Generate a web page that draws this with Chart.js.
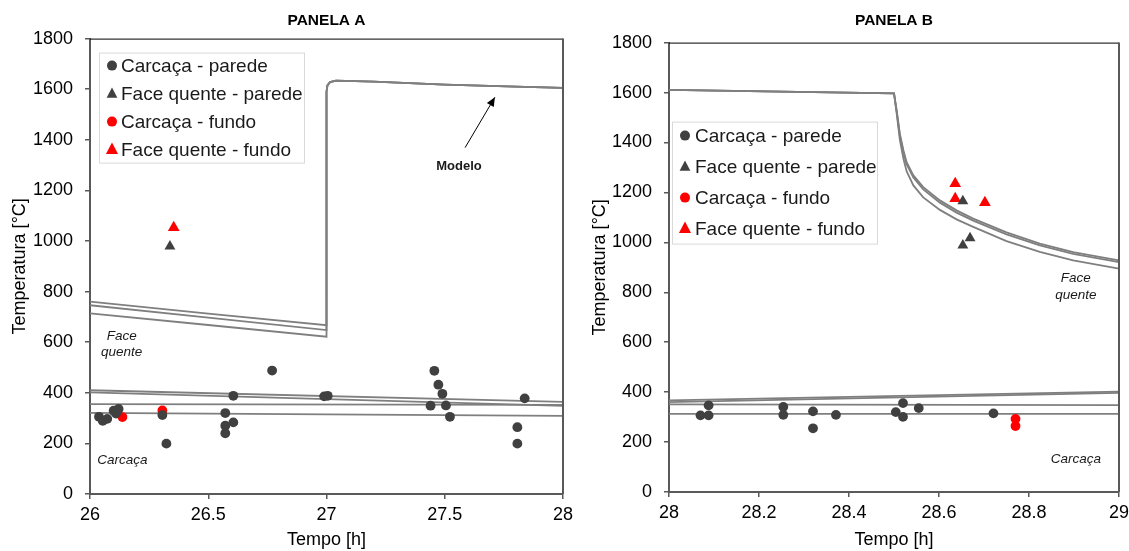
<!DOCTYPE html>
<html><head><meta charset="utf-8">
<script src="https://cdn.jsdelivr.net/npm/chart.js@4.4.0/dist/chart.umd.min.js"></script>
<style>
body{margin:0;background:#fff;width:1129px;height:551px;overflow:hidden;position:relative}
#wa{position:absolute;left:0;top:0;width:580px;height:551px}
#wb{position:absolute;left:580px;top:0;width:549px;height:551px}
</style></head><body>
<div id="wa"><canvas id="ca" width="580" height="551"></canvas></div>
<div id="wb"><canvas id="cb" width="549" height="551"></canvas></div>
<script>
// ---- data ----
var legendLabels = ["Carcaça - parede", "Face quente - parede", "Carcaça - fundo", "Face quente - fundo"];
var yTicks = [0, 1800, 200];
var xTicksA = [26, 28, 0.5];
var xTicksB = [28, 29, 0.2];

// Panel A measurements
var cpA_t = [26.038, 26.054, 26.073, 26.10, 26.11, 26.121, 26.306, 26.323, 26.572, 26.572, 26.572, 26.606, 26.606, 26.77, 26.99, 27.005, 27.456, 27.473, 27.49, 27.44, 27.505, 27.522, 27.807, 27.807, 27.838];
var cpA_T = [305, 289, 297, 329, 318, 336, 312, 199, 320, 270, 240, 283, 388, 488, 386, 388, 487, 432, 396, 349, 350, 305, 264, 199, 378];
var fqpA_t = [26.338];
var fqpA_T = [979];
var cfA_t = [26.137, 26.306];
var cfA_T = [304, 330];
var fqfA_t = [26.354];
var fqfA_T = [1053];

// Panel A model curves
var fqModelA_t = [26, 26.5, 27, 27, 27.004, 27.015, 27.04, 27.2, 27.5, 27.8, 28];
var fqModelA1 = [760, 713, 667, 1590, 1615, 1628, 1634, 1630, 1618, 1610, 1605];
var fqModelA2 = [746, 697, 648, 1590, 1615, 1628, 1634, 1630, 1618, 1610, 1605];
var fqModelA3 = [714, 668, 622, 1590, 1615, 1628, 1634, 1630, 1618, 1610, 1605];
var cModelA_t = [26, 28];
var cModelA1 = [410, 364];
var cModelA2 = [402, 348];
var cModelA3 = [355, 352];
var cModelA4 = [321, 309];

// Panel B measurements
var cpB_t = [28.07, 28.088, 28.088, 28.254, 28.254, 28.32, 28.32, 28.371, 28.504, 28.52, 28.52, 28.555, 28.721];
var cpB_T = [307, 307, 347, 341, 309, 323, 255, 309, 320, 356, 301, 336, 315];
var fqpB_t = [28.653, 28.669, 28.653];
var fqpB_T = [1165, 1017, 988];
var cfB_t = [28.77, 28.77];
var cfB_T = [293, 264];
var fqfB_t = [28.636, 28.636, 28.702];
var fqfB_T = [1235, 1175, 1159];

// Panel B model curves
var fqModelB_t = [28, 28.25, 28.5, 28.506, 28.513, 28.521, 28.528, 28.543, 28.565, 28.602, 28.639, 28.676, 28.75, 28.824, 28.898, 29];
var fqModelB1 = [1611, 1604, 1597, 1528, 1435, 1368, 1321, 1268, 1221, 1168, 1128, 1095, 1040, 995, 961, 928];
var fqModelB2 = [1611, 1604, 1597, 1524, 1428, 1360, 1313, 1260, 1212, 1159, 1119, 1087, 1032, 988, 954, 921];
var fqModelB3 = [1611, 1604, 1597, 1515, 1410, 1335, 1285, 1228, 1180, 1130, 1092, 1062, 1005, 962, 928, 895];
var cModelB_t = [28, 29];
var cModelB1 = [367, 402];
var cModelB2 = [360, 397];
var cModelB3 = [351, 348];
var cModelB4 = [313, 313];

Chart.defaults.font.family = "'Liberation Sans', Arial, sans-serif";
Chart.defaults.color = '#000';

function pts(t, v) {
    var out = [];
    for (var i = 0; i < t.length; i++) out.push({x: t[i], y: v[i]});
    return out;
}

var DARK = '#404040', RED = '#ff0000', MODEL = '#7f7f7f';

function marker_sets(cp_t, cp_T, fqp_t, fqp_T, cf_t, cf_T, fqf_t, fqf_T) {
    var mk = function (label, t, v, color, style, r) {
        return {label: label, data: pts(t, v), backgroundColor: color, borderColor: color, borderWidth: 0,
                pointStyle: style, pointRadius: r, showLine: false, order: 0};
    };
    return [
        mk(legendLabels[0], cp_t, cp_T, DARK, 'circle', 4.9),
        mk(legendLabels[1], fqp_t, fqp_T, DARK, 'triangle', 6.3),
        mk(legendLabels[2], cf_t, cf_T, RED, 'circle', 4.9),
        mk(legendLabels[3], fqf_t, fqf_T, RED, 'triangle', 6.8)
    ];
}

function model_line(t, v) {
    return {data: pts(t, v), showLine: true, pointRadius: 0, borderColor: MODEL, borderWidth: 1.8,
            fill: false, tension: 0, order: 10};
}

// legend box + annotations + frame
var decor = {
    id: 'decor',
    afterDatasetsDraw: function (chart, args, o) {
        var ctx = chart.ctx, ca = chart.chartArea, xs = chart.scales.x, ys = chart.scales.y;
        ctx.save();
        // frame: top + right
        ctx.strokeStyle = '#000'; ctx.lineWidth = 1;
        ctx.beginPath(); ctx.moveTo(ca.left, ca.top + 0.5); ctx.lineTo(ca.right, ca.top + 0.5); ctx.stroke();
        ctx.strokeStyle = '#595959'; ctx.lineWidth = 2;
        ctx.beginPath(); ctx.moveTo(ca.right, ca.top); ctx.lineTo(ca.right, ca.bottom); ctx.stroke();

        // legend
        var L = o.legend;
        var bx = ca.left + L.dx, by = ca.top + L.dy;
        ctx.fillStyle = '#fff'; ctx.fillRect(bx, by, L.w, L.h);
        ctx.strokeStyle = '#d9d9d9'; ctx.lineWidth = 1;
        ctx.strokeRect(bx + 0.5, by + 0.5, L.w, L.h);
        ctx.font = "19px 'Liberation Sans', Arial, sans-serif";
        ctx.textBaseline = 'middle';
        for (var i = 0; i < 4; i++) {
            var ds = chart.data.datasets[i];
            var cy = by + L.first + i * L.step, cx = bx + 13;
            ctx.fillStyle = ds.backgroundColor;
            ctx.beginPath();
            if (ds.pointStyle === 'circle') {
                ctx.arc(cx, cy, 5, 0, Math.PI * 2);
            } else {
                var r = i === 3 ? 7 : 6.2;
                ctx.moveTo(cx, cy - r);
                ctx.lineTo(cx + r * 0.866, cy + r * 0.5 + 1);
                ctx.lineTo(cx - r * 0.866, cy + r * 0.5 + 1);
                ctx.closePath();
            }
            ctx.fill();
            ctx.fillStyle = '#1a1a1a';
            ctx.fillText(ds.label, bx + L.text, cy + 1);
        }

        // notes in data coordinates
        ctx.fillStyle = '#1a1a1a';
        ctx.textAlign = 'center';
        o.notes.forEach(function (n) {
            ctx.font = n.font;
            ctx.fillText(n.text, xs.getPixelForValue(n.x), ys.getPixelForValue(n.y));
        });
        if (o.arrow) {
            var a = o.arrow;
            var x0 = xs.getPixelForValue(a[0]), y0 = ys.getPixelForValue(a[1]);
            var x1 = xs.getPixelForValue(a[2]), y1 = ys.getPixelForValue(a[3]);
            ctx.strokeStyle = '#000'; ctx.lineWidth = 1;
            ctx.beginPath(); ctx.moveTo(x0, y0); ctx.lineTo(x1, y1); ctx.stroke();
            var ang = Math.atan2(y1 - y0, x1 - x0), hl = 9, hw = 4;
            ctx.fillStyle = '#000';
            ctx.beginPath();
            ctx.moveTo(x1, y1);
            ctx.lineTo(x1 - hl * Math.cos(ang) + hw * Math.sin(ang), y1 - hl * Math.sin(ang) - hw * Math.cos(ang));
            ctx.lineTo(x1 - hl * Math.cos(ang) - hw * Math.sin(ang), y1 - hl * Math.sin(ang) + hw * Math.cos(ang));
            ctx.closePath(); ctx.fill();
        }
        ctx.restore();
    }
};

function make_chart(el, title, xt, datasets, yw, xh, top, padRight, decorOpts) {
    return new Chart(document.getElementById(el), {
        type: 'scatter',
        data: {datasets: datasets},
        plugins: [decor],
        options: {
            responsive: false,
            animation: false,
            events: [],
            layout: {padding: {left: 0, right: padRight, top: 0, bottom: 0}},
            plugins: {
                legend: {display: false},
                tooltip: {enabled: false},
                title: {display: true, text: title, fullSize: false, color: '#000',
                        font: {size: 15.5, weight: 'bold'}, padding: {top: 11, bottom: top - 29}},
                decor: decorOpts
            },
            scales: {
                x: {
                    type: 'linear', min: xt[0], max: xt[1],
                    ticks: {stepSize: xt[2], font: {size: 18}, color: '#000', padding: 5, maxRotation: 0,
                            autoSkip: false, callback: function (v) { return String(Math.round(v * 10) / 10); }},
                    grid: {drawOnChartArea: false, drawTicks: true, tickLength: 5, color: '#595959', lineWidth: 1.5},
                    border: {color: '#595959', width: 2},
                    title: {display: true, text: 'Tempo [h]', font: {size: 18}, color: '#000', padding: {top: 0, bottom: 0}},
                    afterFit: function (s) { s.height = xh; s.paddingRight = 0; }
                },
                y: {
                    type: 'linear', min: yTicks[0], max: yTicks[1],
                    ticks: {stepSize: yTicks[2], font: {size: 18}, color: '#000', padding: 12,
                            callback: function (v) { return String(v); }},
                    grid: {drawOnChartArea: false, drawTicks: true, tickLength: 5, color: '#595959', lineWidth: 1.5},
                    border: {color: '#595959', width: 2},
                    title: {display: true, text: 'Temperatura [°C]', font: {size: 18}, color: '#000', padding: {top: 9, bottom: 0}},
                    afterFit: function (s) { s.width = yw; }
                }
            }
        }
    });
}

var italic = "italic 13.5px 'Liberation Sans', Arial, sans-serif";

var dsA = marker_sets(cpA_t, cpA_T, fqpA_t, fqpA_T, cfA_t, cfA_T, fqfA_t, fqfA_T).concat([
    model_line(fqModelA_t, fqModelA1), model_line(fqModelA_t, fqModelA2), model_line(fqModelA_t, fqModelA3),
    model_line(cModelA_t, cModelA1), model_line(cModelA_t, cModelA2), model_line(cModelA_t, cModelA3), model_line(cModelA_t, cModelA4)
]);
make_chart('ca', 'PANELA A', xTicksA, dsA, 90, 57, 38, 17, {
    legend: {dx: 9, dy: 14, w: 205, h: 110, first: 13, step: 28, text: 22},
    notes: [
        {text: 'Face', x: 26.134, y: 624, font: italic},
        {text: 'quente', x: 26.134, y: 562, font: italic},
        {text: 'Carcaça', x: 26.137, y: 134, font: italic},
        {text: 'Modelo', x: 27.56, y: 1295, font: "bold 13px 'Liberation Sans', Arial, sans-serif"}
    ],
    arrow: [27.586, 1369, 27.712, 1568]
});

var dsB = marker_sets(cpB_t, cpB_T, fqpB_t, fqpB_T, cfB_t, cfB_T, fqfB_t, fqfB_T).concat([
    model_line(fqModelB_t, fqModelB1), model_line(fqModelB_t, fqModelB2), model_line(fqModelB_t, fqModelB3),
    model_line(cModelB_t, cModelB1), model_line(cModelB_t, cModelB2), model_line(cModelB_t, cModelB3), model_line(cModelB_t, cModelB4)
]);
make_chart('cb', 'PANELA B', xTicksB, dsB, 89, 59, 42, 10, {
    legend: {dx: 3, dy: 79, w: 205, h: 122, first: 14, step: 31, text: 23},
    notes: [
        {text: 'Face', x: 28.904, y: 855, font: italic},
        {text: 'quente', x: 28.904, y: 788, font: italic},
        {text: 'Carcaça', x: 28.904, y: 131, font: italic}
    ],
    arrow: null
});
</script>
</body></html>
